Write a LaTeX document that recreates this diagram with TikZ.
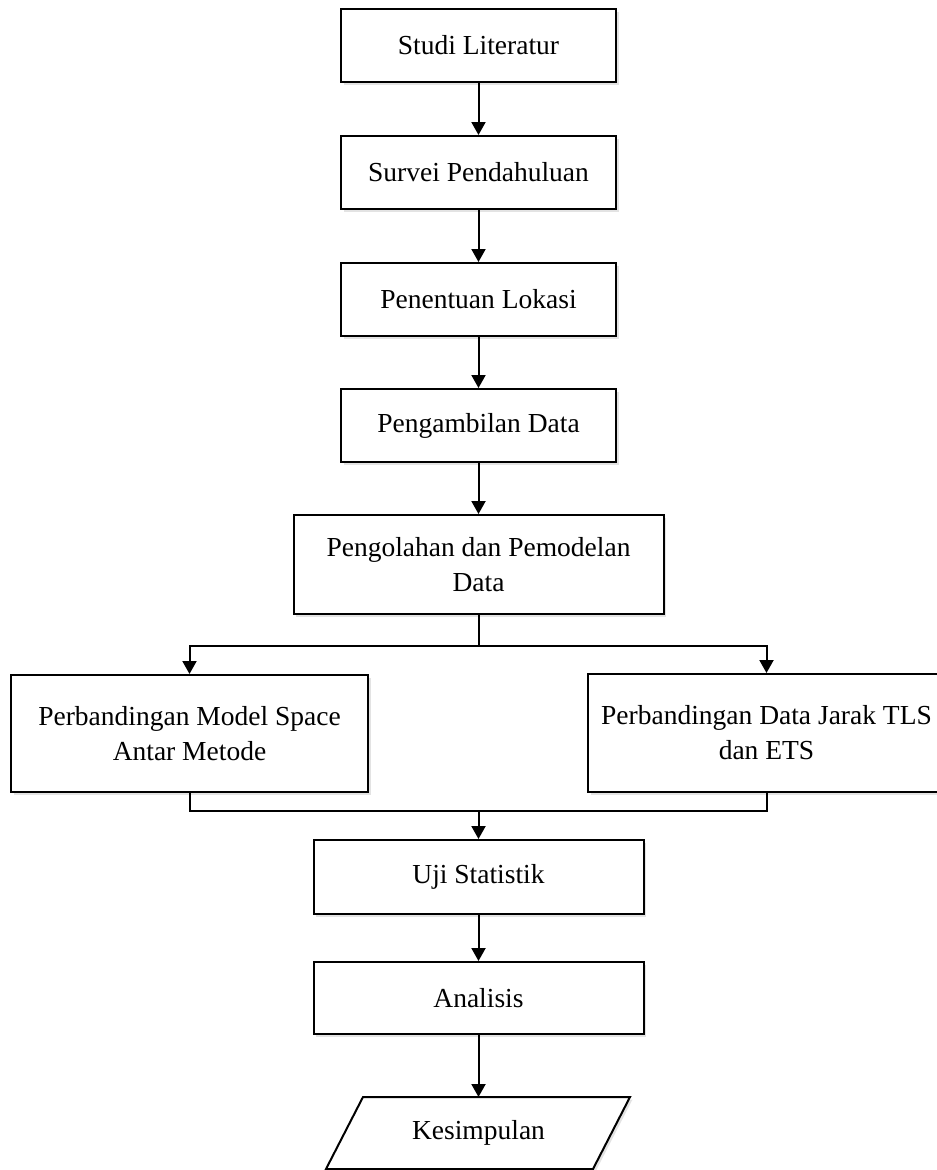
\documentclass[tikz,border=0pt]{standalone}
\usepackage{fontspec}
\setmainfont{Liberation Serif}
\usetikzlibrary{arrows.meta,shadows}
\begin{document}
\begin{tikzpicture}[x=1pt,y=-1pt,
  box/.style={draw,line width=2pt,fill=white,inner sep=0pt,align=center,
    font=\fontsize{27.5}{35}\selectfont,
    drop shadow={shadow xshift=2.5pt,shadow yshift=-2.5pt,fill=gray!22,opacity=1}},
  arr/.style={line width=2pt,-{Triangle[width=14pt,length=13pt]}},
  ln/.style={line width=2pt},
  txt/.style={font=\fontsize{27.5}{35}\selectfont,inner sep=0pt}]
\useasboundingbox (0,0) rectangle (937,1170);
\clip (0,0) rectangle (937,1170);
\fill[white] (0,0) rectangle (937,1170);
\node[box,minimum width=275pt,minimum height=73pt] (s1) at (478.5,45.5) {Studi Literatur};
\node[box,minimum width=275pt,minimum height=73pt] (s2) at (478.5,172.5) {Survei Pendahuluan};
\node[box,minimum width=275pt,minimum height=73pt] (s3) at (478.5,299.5) {Penentuan Lokasi};
\node[box,minimum width=275pt,minimum height=73pt] (s4) at (478.5,425.5) {Pengambilan Data};
\node[box,minimum width=370pt,minimum height=99pt] (s5) at (478.5,564.5) {Pengolahan dan Pemodelan\\Data};
\node[box,minimum width=357pt,minimum height=117pt] (L) at (189.5,733.5) {Perbandingan Model Space\\Antar Metode};
\node[box,minimum width=357pt,minimum height=118pt] (R) at (766.5,733) {Perbandingan Data Jarak TLS\\dan ETS};
\node[box,minimum width=330pt,minimum height=74pt] (u) at (478.5,877) {Uji Statistik};
\node[box,minimum width=330pt,minimum height=72pt] (a) at (478.5,998) {Analisis};
% Kesimpulan parallelogram
\coordinate (k1) at (363,1097);
\coordinate (k2) at (630,1097);
\coordinate (k3) at (593,1169);
\coordinate (k4) at (326,1169);
\coordinate (kt) at (478.5,1097);
\fill[gray!22] ([shift={(2.5,2.5)}]k1) -- ([shift={(2.5,2.5)}]k2) -- ([shift={(2.5,2.5)}]k3) -- ([shift={(2.5,2.5)}]k4) -- cycle;
\draw[ln,fill=white] (k1) -- (k2) -- (k3) -- (k4) -- cycle;
\node[txt] (k) at (478.5,1133) {Kesimpulan};
% connectors
\draw[arr] (s1) -- (s2);
\draw[arr] (s2) -- (s3);
\draw[arr] (s3) -- (s4);
\draw[arr] (s4) -- (s5);
\coordinate (b) at (478.5,646);
\draw[ln] (s5.south) -- (b);
\draw[arr] (b) -| (L.north);
\draw[arr] (b) -| (R.north);
\coordinate (m) at (478.5,811);
\draw[ln] (L.south) |- (m);
\draw[ln] (R.south) |- (m);
\draw[arr] (m) -- (u.north);
\draw[arr] (u) -- (a);
\draw[arr] (a.south) -- (kt);
\end{tikzpicture}
\end{document}
